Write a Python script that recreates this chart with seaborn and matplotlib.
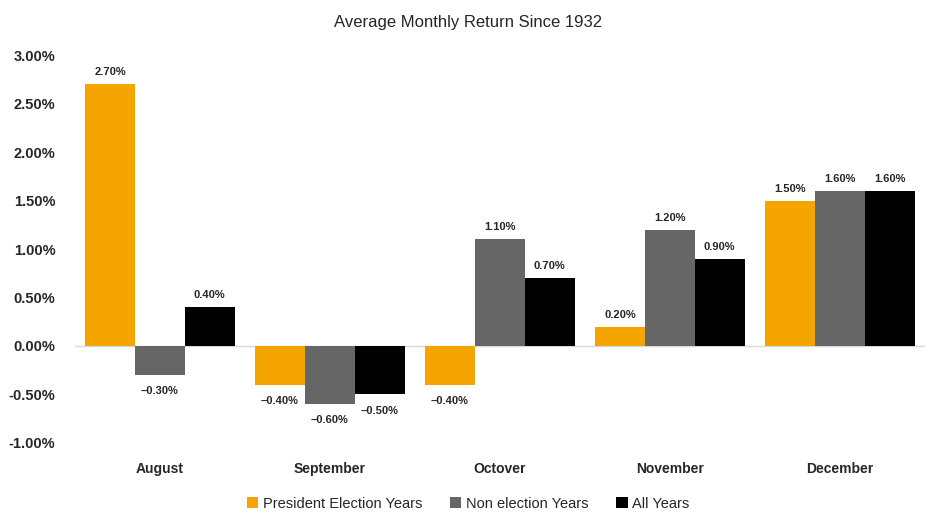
import pandas as pd
import matplotlib.pyplot as plt
import seaborn as sns

months = ["August", "September", "Octover", "November", "December"]
series_names = ["President Election Years", "Non election Years", "All Years"]
election_years = [2.70, -0.40, -0.40, 0.20, 1.50]
non_election_years = [-0.30, -0.60, 1.10, 1.20, 1.60]
all_years = [0.40, -0.50, 0.70, 0.90, 1.60]
y_ticks = [-1.0, -0.5, 0.0, 0.5, 1.0, 1.5, 2.0, 2.5, 3.0]
colors = ["#F5A500", "#666666", "#000000"]


def build_frame():
    rows = []
    for name, vals in zip(series_names, [election_years, non_election_years, all_years]):
        for m, v in zip(months, vals):
            rows.append({"Month": m, "Series": name, "Return": v})
    return pd.DataFrame(rows)


df = build_frame()

sns.set_style("white")
plt.rcParams["font.family"] = ["Liberation Sans", "DejaVu Sans"]

fig = plt.figure(figsize=(9.36, 5.26), dpi=100)
ax = fig.add_axes([0.080, 0.158, 0.908, 0.737])

sns.barplot(data=df, x="Month", y="Return", hue="Series", order=months,
            hue_order=series_names, palette=colors, width=0.88, gap=0,
            saturation=1, linewidth=0, ax=ax, legend=True)

for container in ax.containers:
    for bar in container:
        h = bar.get_height()
        x = bar.get_x() + bar.get_width() / 2
        if h >= 0:
            ax.annotate(f"{h:.2f}%", (x, h), xytext=(0, 5), textcoords="offset points",
                        ha="center", va="bottom", fontsize=8, fontweight="bold")
        else:
            ax.annotate(f"\u2013{abs(h):.2f}%", (x, h), xytext=(0, -8), textcoords="offset points",
                        ha="center", va="top", fontsize=8, fontweight="bold")

ax.axhline(0, color="#d9d9d9", lw=1, zorder=0)
ax.set_ylim(-1.0, 3.0)
ax.set_xlim(-0.5, len(months) - 0.5)
ax.set_yticks(y_ticks)
ax.set_yticklabels([f"{t:.2f}%" for t in y_ticks], fontsize=10.5, fontweight="bold")
ax.set_xticks(range(len(months)))
ax.set_xticklabels(months, fontsize=10, fontweight="bold")
ax.tick_params(axis="y", length=0, pad=14)
ax.tick_params(axis="x", length=0, pad=14)
ax.set_xlabel("")
ax.set_ylabel("")
sns.despine(ax=ax, left=True, bottom=True)

ax.legend_.remove()
handles, labels = ax.get_legend_handles_labels()
fig.legend(handles, labels, loc="center", bbox_to_anchor=(0.5, 0.042), ncol=3,
           frameon=False, fontsize=10.5, handlelength=0.8, handleheight=0.8,
           handletextpad=0.3, columnspacing=1.9)

fig.text(0.5, 0.958, "Average Monthly Return Since 1932", ha="center", va="center", fontsize=12)

plt.savefig("out.png", dpi=100)
